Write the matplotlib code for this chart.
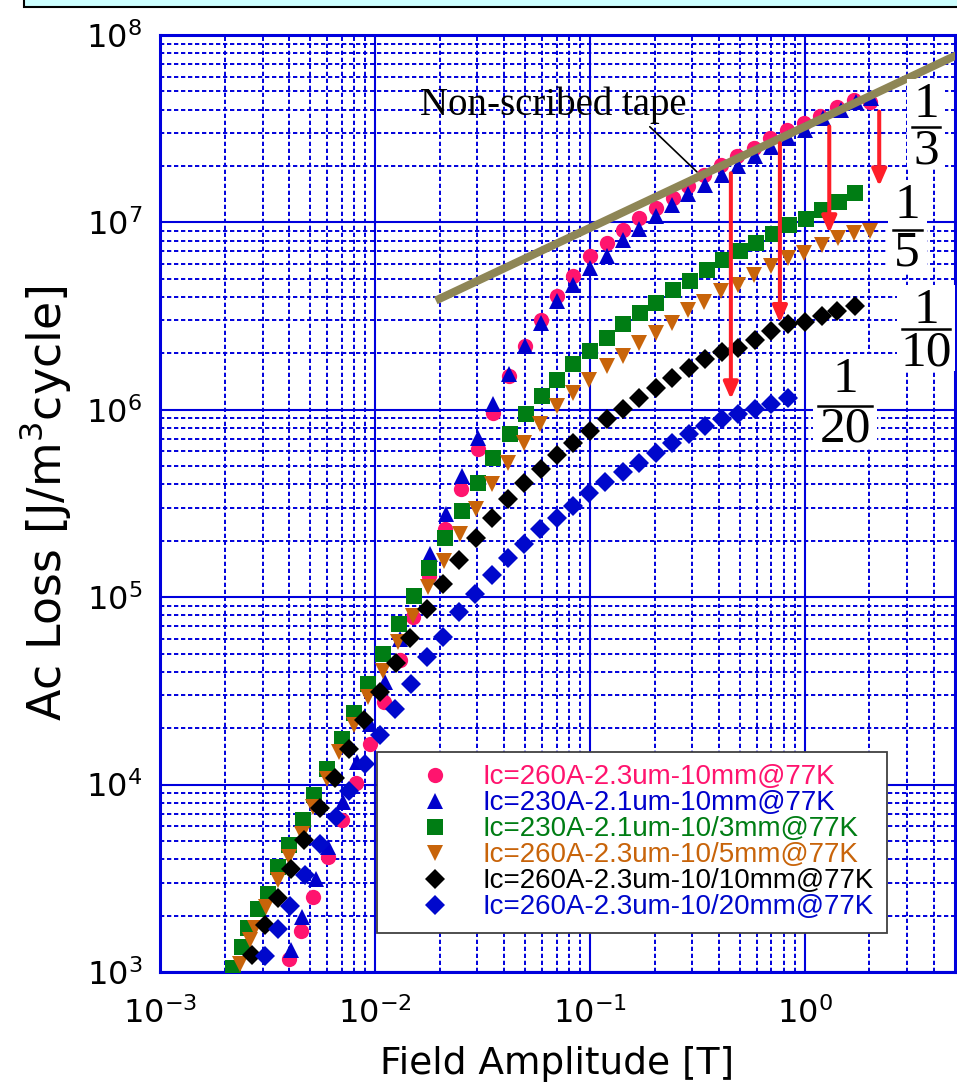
import numpy as np
import matplotlib
matplotlib.use("Agg")
import matplotlib.pyplot as plt
from matplotlib.patches import Rectangle
from matplotlib.lines import Line2D
from matplotlib.ticker import LogLocator, NullFormatter

# Field amplitude [T] and ac loss [J/m^3 cycle] for each tape
pink_x = [0.00398, 0.00453, 0.00516, 0.00603, 0.00702, 0.00813, 0.00944, 0.0110, 0.0131, 0.0151,
          0.0179, 0.0212, 0.0251, 0.0301, 0.0355, 0.0422, 0.0499, 0.0590, 0.0700, 0.0835,
          0.100, 0.120, 0.142, 0.169, 0.203, 0.243, 0.286, 0.339, 0.406, 0.486,
          0.580, 0.687, 0.828, 0.989, 1.18, 1.41, 1.69, 2.02]
pink_y = [1180, 1660, 2510, 4110, 6440, 10200, 16400, 27500, 46400, 78000,
          1.30e5, 2.31e5, 3.77e5, 6.15e5, 9.66e5, 1.51e6, 2.18e6, 3.03e6, 4.03e6, 5.20e6,
          6.59e6, 7.77e6, 9.14e6, 1.055e7, 1.19e7, 1.35e7, 1.56e7, 1.80e7, 2.03e7, 2.25e7,
          2.49e7, 2.82e7, 3.12e7, 3.39e7, 3.70e7, 4.15e7, 4.50e7, 4.41e7]

tri_x = [0.00407, 0.00459, 0.00530, 0.00603, 0.00708, 0.00822, 0.00948, 0.0111, 0.0131, 0.0152,
         0.0180, 0.0214, 0.0253, 0.0302, 0.0355, 0.0421, 0.0498, 0.0590, 0.0705, 0.0836,
         0.100, 0.120, 0.142, 0.170, 0.203, 0.240, 0.287, 0.343, 0.410, 0.490,
         0.585, 0.700, 0.836, 1.00, 1.22, 1.47, 1.74, 2.04]
tri_y = [1310, 1970, 3150, 4650, 8070, 13200, 21100, 35200, 59800, 1.01e5,
         1.70e5, 2.77e5, 4.44e5, 7.10e5, 1.07e6, 1.55e6, 2.18e6, 2.91e6, 3.79e6, 4.66e6,
         5.71e6, 6.59e6, 8.09e6, 9.22e6, 1.08e7, 1.24e7, 1.41e7, 1.59e7, 1.80e7, 1.99e7,
         2.25e7, 2.54e7, 2.82e7, 3.12e7, 3.60e7, 3.98e7, 4.41e7, 4.60e7]

green_x = [0.00219, 0.00240, 0.00257, 0.00287, 0.00317, 0.00355, 0.00399, 0.00461, 0.00520, 0.00596,
           0.00700, 0.00801, 0.00931, 0.0109, 0.0130, 0.0152, 0.0179, 0.0212, 0.0253, 0.0301,
           0.0355, 0.0425, 0.0504, 0.0596, 0.0700, 0.0836, 0.100, 0.120, 0.143, 0.171,
           0.204, 0.244, 0.292, 0.349, 0.417, 0.499, 0.596, 0.712, 0.843, 1.01,
           1.20, 1.44, 1.72]
green_y = [1050, 1360, 1710, 2180, 2620, 3630, 4780, 6440, 8830, 12100,
           17500, 24100, 34400, 49800, 71900, 1.02e5, 1.44e5, 2.08e5, 2.88e5, 4.09e5,
           5.56e5, 7.40e5, 9.44e5, 1.18e6, 1.45e6, 1.75e6, 2.06e6, 2.42e6, 2.88e6, 3.29e6,
           3.72e6, 4.38e6, 4.85e6, 5.60e6, 6.32e6, 7.00e6, 7.76e6, 8.71e6, 9.72e6, 1.04e7,
           1.17e7, 1.29e7, 1.44e7]

orange_x = [0.00236, 0.00262, 0.00277, 0.00310, 0.00353, 0.00399, 0.00456, 0.00516, 0.00596, 0.00682,
            0.00799, 0.00925, 0.0109, 0.0128, 0.0151, 0.0177, 0.0209, 0.0249, 0.0295, 0.0349,
            0.0417, 0.0493, 0.0585, 0.0700, 0.0836, 0.0993, 0.120, 0.142, 0.170, 0.203,
            0.240, 0.285, 0.339, 0.406, 0.490, 0.579, 0.700, 0.836, 0.989, 1.20,
            1.43, 1.70, 2.02]
orange_y = [1110, 1480, 1710, 2220, 3080, 4110, 5470, 7590, 10700, 14900,
            20700, 29200, 40600, 57900, 79600, 1.13e5, 1.56e5, 2.17e5, 2.94e5, 4.01e5,
            5.22e5, 6.68e5, 8.36e5, 1.05e6, 1.23e6, 1.45e6, 1.71e6, 1.93e6, 2.28e6, 2.58e6,
            2.91e6, 3.39e6, 3.76e6, 4.29e6, 4.66e6, 5.26e6, 5.83e6, 6.46e6, 6.87e6, 7.60e6,
            8.26e6, 8.79e6, 8.96e6]

black_x = [0.00267, 0.00308, 0.00353, 0.00407, 0.00468, 0.00555, 0.00652, 0.00757, 0.00892, 0.0106,
           0.0125, 0.0146, 0.0174, 0.0208, 0.0247, 0.0294, 0.0349, 0.0417, 0.0493, 0.0590,
           0.0705, 0.0836, 0.100, 0.120, 0.142, 0.170, 0.203, 0.242, 0.290, 0.343,
           0.410, 0.490, 0.585, 0.700, 0.836, 1.00, 1.20, 1.41, 1.71]
black_y = [1230, 1780, 2490, 3560, 5040, 7500, 10800, 15400, 22100, 31300,
           44600, 60500, 86500, 1.18e5, 1.58e5, 2.08e5, 2.66e5, 3.33e5, 4.06e5, 4.85e5,
           5.72e5, 6.62e5, 7.71e5, 8.89e5, 1.01e6, 1.16e6, 1.31e6, 1.48e6, 1.68e6, 1.86e6,
           2.03e6, 2.14e6, 2.37e6, 2.63e6, 2.88e6, 2.93e6, 3.18e6, 3.36e6, 3.60e6]

bdiam_x = [0.00308, 0.00354, 0.00403, 0.00473, 0.00555, 0.00657, 0.00757, 0.00899, 0.0106, 0.0124,
           0.0147, 0.0174, 0.0207, 0.0247, 0.0292, 0.0349, 0.0414, 0.0493, 0.0588, 0.0700,
           0.0831, 0.0993, 0.118, 0.142, 0.170, 0.203, 0.242, 0.290, 0.343, 0.410,
           0.490, 0.585, 0.700, 0.836]
bdiam_y = [1210, 1690, 2260, 3280, 4840, 6710, 9290, 12900, 18300, 25400,
           34400, 47800, 61700, 83000, 1.04e5, 1.31e5, 1.61e5, 1.92e5, 2.30e5, 2.66e5,
           3.05e5, 3.58e5, 4.10e5, 4.66e5, 5.22e5, 5.90e5, 6.62e5, 7.40e5, 8.19e5, 8.98e5,
           9.46e5, 1.01e6, 1.08e6, 1.15e6]

labels = [
    "Ic=260A-2.3um-10mm@77K",
    "Ic=230A-2.1um-10mm@77K",
    "Ic=230A-2.1um-10/3mm@77K",
    "Ic=260A-2.3um-10/5mm@77K",
    "Ic=260A-2.3um-10/10mm@77K",
    "Ic=260A-2.3um-10/20mm@77K",
]
colors = ["#FF146E", "#0000CC", "#007D14", "#C8640A", "#000000", "#0008CC"]

# Non-scribed tape reference line
tape_x = [0.0192, 5.1]
tape_y = [3.83e6, 7.82e7]

# Red arrows: reduction from the non-scribed loss
arrow_x = [0.453, 0.766, 1.30, 2.22]
arrow_top = [1.83e7, 2.65e7, 3.25e7, 3.90e7]
arrow_bottom = [1.14e6, 2.91e6, 8.77e6, 1.56e7]

W, H = 957, 1087


def fx(px):
    return px / W


def fy(py):
    return 1 - py / H


plt.rcParams["font.family"] = "DejaVu Sans"
plt.rcParams["mathtext.default"] = "regular"

fig = plt.figure(figsize=(W / 100, H / 100), dpi=100)
ax = fig.add_axes([fx(160), fy(972), (955 - 160) / W, (972 - 35) / H])

# header box cut at the top of the figure
fig.add_artist(Rectangle((fx(24), fy(7)), 1.0, 0.05, transform=fig.transFigure,
                         facecolor="#CCFFFF", edgecolor="black", lw=1.5, clip_on=False))

# data series
series = [
    (pink_x, pink_y, "o", 11.0),
    (tri_x, tri_y, "^", 11.5),
    (green_x, green_y, "s", 11.5),
    (orange_x, orange_y, "v", 11.5),
    (black_x, black_y, "D", 9.8),
    (bdiam_x, bdiam_y, "D", 9.8),
]
for (x, y, m, ms), c, lab in zip(series, colors, labels):
    ax.plot(x, y, linestyle="none", marker=m, markersize=ms, color=c,
            markeredgewidth=0, label=lab, zorder=3)

ax.plot(tape_x, tape_y, color="#8E8656", lw=5.8, solid_capstyle="butt", zorder=4)

for x, y0, y1 in zip(arrow_x, arrow_top, arrow_bottom):
    ax.annotate("", xy=(x, y1), xytext=(x, y0),
                arrowprops=dict(arrowstyle="-|>,head_length=0.5,head_width=0.22",
                                color="#FF1E28", lw=2.9, shrinkA=0, shrinkB=0,
                                mutation_scale=20),
                zorder=5)

ax.text(0.0162, 3.75e7, "Non-scribed tape", family="Liberation Serif", fontsize=28,
        ha="left", va="baseline", zorder=6)
ax.annotate("", xy=(0.315, 1.86e7), xytext=(0.190, 3.24e7),
            arrowprops=dict(arrowstyle="-", color="black", lw=1.2, shrinkA=0, shrinkB=0),
            zorder=6)

# axes, grid
ax.set_xscale("log")
ax.set_yscale("log")
ax.set_xlim(1e-3, 5)
ax.set_ylim(1e3, 1e8)
for axis in (ax.xaxis, ax.yaxis):
    axis.set_major_locator(LogLocator(base=10, numticks=20))
    axis.set_minor_locator(LogLocator(base=10, subs=np.arange(2, 10), numticks=50))
    axis.set_minor_formatter(NullFormatter())

ax.set_axisbelow(True)
ax.grid(which="major", color="#0000DD", lw=1.5, ls="-")
ax.grid(which="minor", color="#0000DD", lw=1.4, ls=(0, (2.2, 1.4)))
ax.tick_params(which="both", length=0)
ax.tick_params(axis="x", pad=18, labelsize=23)
ax.tick_params(axis="y", pad=13, labelsize=23)
for s in ax.spines.values():
    s.set_color("#0000DD")
    s.set_linewidth(2.2)

ax.set_xlabel("Field Amplitude [T]", fontsize=27)
ax.xaxis.set_label_coords(0.5, (972 - 1046) / 937)
ax.set_ylabel("Ac Loss [J/m$^3$cycle]", fontsize=33)
ax.yaxis.set_label_coords((73 - 160) / 795, 0.5)

# legend
leg = ax.legend(loc="upper left", bbox_to_anchor=(fx(377), fy(752)),
                bbox_transform=fig.transFigure,
                prop={"family": "Liberation Sans", "size": 20},
                borderpad=0.45, handlelength=3.27, handletextpad=0.09,
                labelspacing=0.0, borderaxespad=0, fancybox=False,
                framealpha=1, edgecolor="#404040", numpoints=1)
leg.get_frame().set_linewidth(1.3)
for t, c in zip(leg.get_texts(), colors):
    t.set_color(c)
leg.set_zorder(10)

# fractions on the right: (denominator, centre x, numerator baseline, bar y, half bar, denominator baseline)
fractions = [
    ("3", 926, 117, 127, 14, 163),
    ("5", 907, 218, 230, 14.5, 266),
    ("10", 926, 323, 329, 24, 365),
    ("20", 845, 392, 406, 27, 441),
]
for den, cx, nb, by, hw, db in fractions:
    fig.add_artist(Rectangle((fx(cx - hw - 5), fy(db + 6)), (2 * hw + 10) / W,
                             (db + 6 - (nb - 38)) / H, transform=fig.transFigure,
                             facecolor="white", edgecolor="none", zorder=2))
    fig.add_artist(Line2D([fx(cx - hw), fx(cx + hw)], [fy(by), fy(by)],
                          transform=fig.transFigure, color="black", lw=1.8, zorder=3))
    fig.text(fx(cx), fy(nb), "1", family="Liberation Serif", fontsize=37,
             ha="center", va="baseline", zorder=4)
    fig.text(fx(cx), fy(db), den, family="Liberation Serif", fontsize=37,
             ha="center", va="baseline", zorder=4)

fig.savefig("out.png", dpi=100)
